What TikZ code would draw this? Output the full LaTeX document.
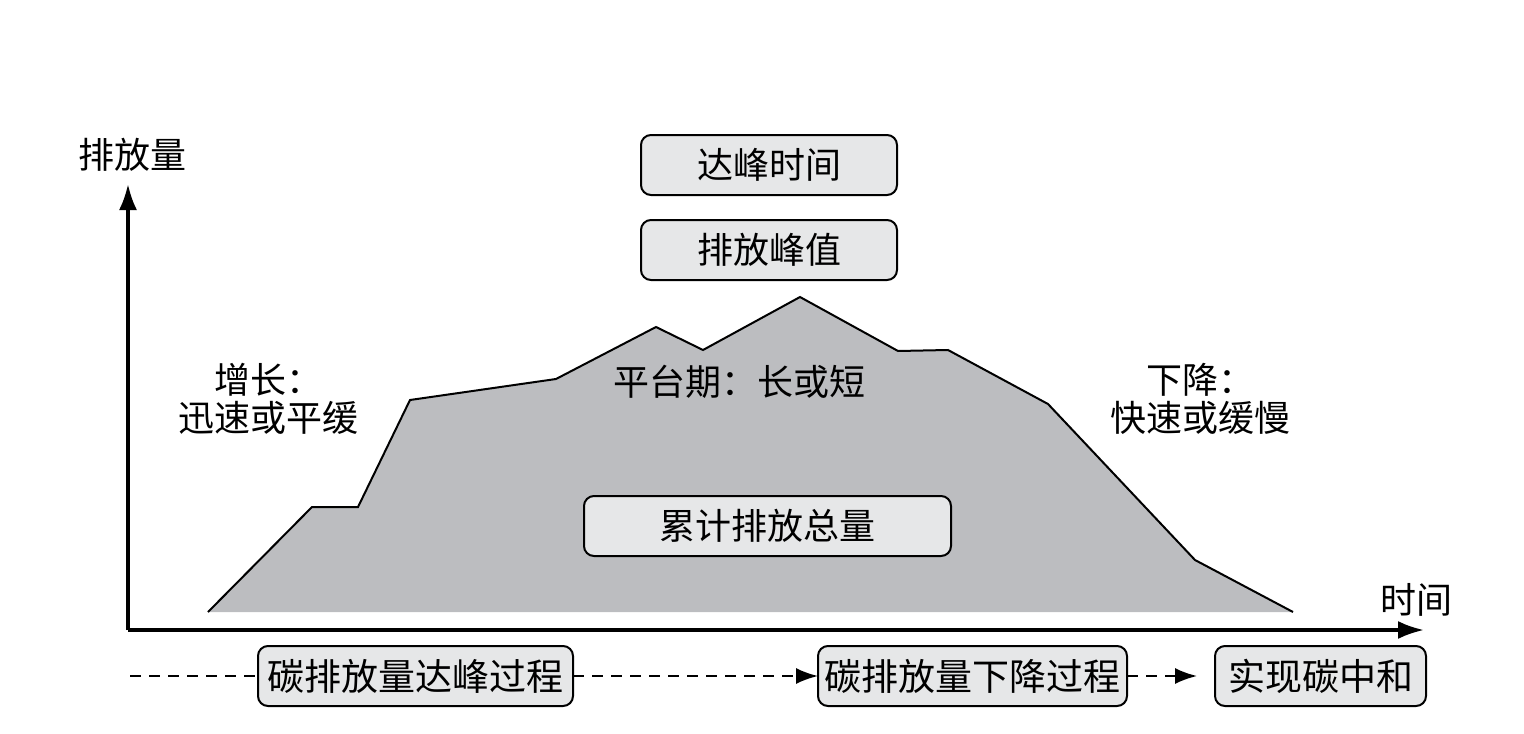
\documentclass[tikz,border=0pt]{standalone}
\usepackage{fontspec}
\newfontfamily\cjk{Noto Sans CJK SC}
\usetikzlibrary{positioning}
\usetikzlibrary{arrows.meta}
\definecolor{areagray}{RGB}{188,189,192}
\definecolor{boxgray}{RGB}{230,231,232}
\tikzset{
    tagbox/.style={
        draw,rounded corners=5pt,fill=boxgray,
        line width=1pt,text=black,
        minimum height=30pt,
        outer sep=0pt,
        inner sep=2pt,
        font=\cjk\fontsize{18}{22}\selectfont,
        },
    flowbox/.style={
        tagbox,
        font=\cjk\fontsize{18.5}{22}\selectfont,
        },
    plainnode/.style={
        align=center,
        outer sep=0pt,inner sep=0pt,
        font=\cjk\fontsize{18}{19}\selectfont,
        },
    flowline/.style={
        dash pattern=on 5.5pt off 4pt,
        line width=1pt,
        },
    axisline/.style={
        line width=1.7pt,
        -{Latex[length=13pt,width=9pt]},
        },
    flowtip/.style={
        -{Latex[length=11pt,width=8pt]},
        }
    }

\begin{document}
\begin{tikzpicture}[x=0.5pt,y=-0.5pt]
    \useasboundingbox (0,0) rectangle (1524,733);
    % emission area
    \fill[areagray] (208,612) -- (312,507) -- (358,507) -- (410,400) -- (556,379)
        -- (656,327) -- (703,350) -- (800,297) -- (898,351) -- (948,350)
        -- (1048,404) -- (1195,560) -- (1293,612) -- cycle;
    \draw[line width=1pt,line join=miter] (208,612) -- (312,507) -- (358,507) -- (410,400) -- (556,379)
        -- (656,327) -- (703,350) -- (800,297) -- (898,351) -- (948,350)
        -- (1048,404) -- (1195,560) -- (1293,612);
    % axes
    \coordinate (O) at (128,630);
    \coordinate (ytip) at (128,184);
    \coordinate (xtip) at (1424,630);
    \draw[axisline] (O) -- (ytip);
    \draw[axisline] (O) -- (xtip);
    \node[plainnode] (ylabel) at (132,155) {排放量};
    \node[plainnode] (xlabel) at (1416,600) {时间};
    % boxes over the peak
    \node[tagbox,minimum width=128pt] (peaktime) at (769,165) {达峰时间};
    \node[tagbox,minimum width=128pt] (peakvalue) [below=12.5pt of peaktime] {排放峰值};
    \node[tagbox,minimum width=183.5pt] (total) at (767.5,526) {累计排放总量};
    % phase labels
    \node[plainnode] (rise) at (268,399) {增长：\\迅速或平缓};
    \node[plainnode] (plateau) at (739,382) {平台期：长或短};
    \node[plainnode] (fall) at (1200,399) {下降：\\快速或缓慢};
    % process row
    \coordinate (start) at (130,676);
    \node[flowbox,minimum width=157.5pt] (reach) at (415.5,676) {碳排放量达峰过程};
    \node[flowbox,minimum width=154.5pt] (decline) at (972.5,676) {碳排放量下降过程};
    \node[flowbox,minimum width=105.5pt] (neutral) at (1320.5,676) {实现碳中和};
    \draw[flowline] (start) -- (reach);
    \draw[flowline,flowtip] (reach) -- (decline);
    \draw[flowline,flowtip,shorten >=9pt] (decline) -- (neutral);
\end{tikzpicture}
\end{document}
